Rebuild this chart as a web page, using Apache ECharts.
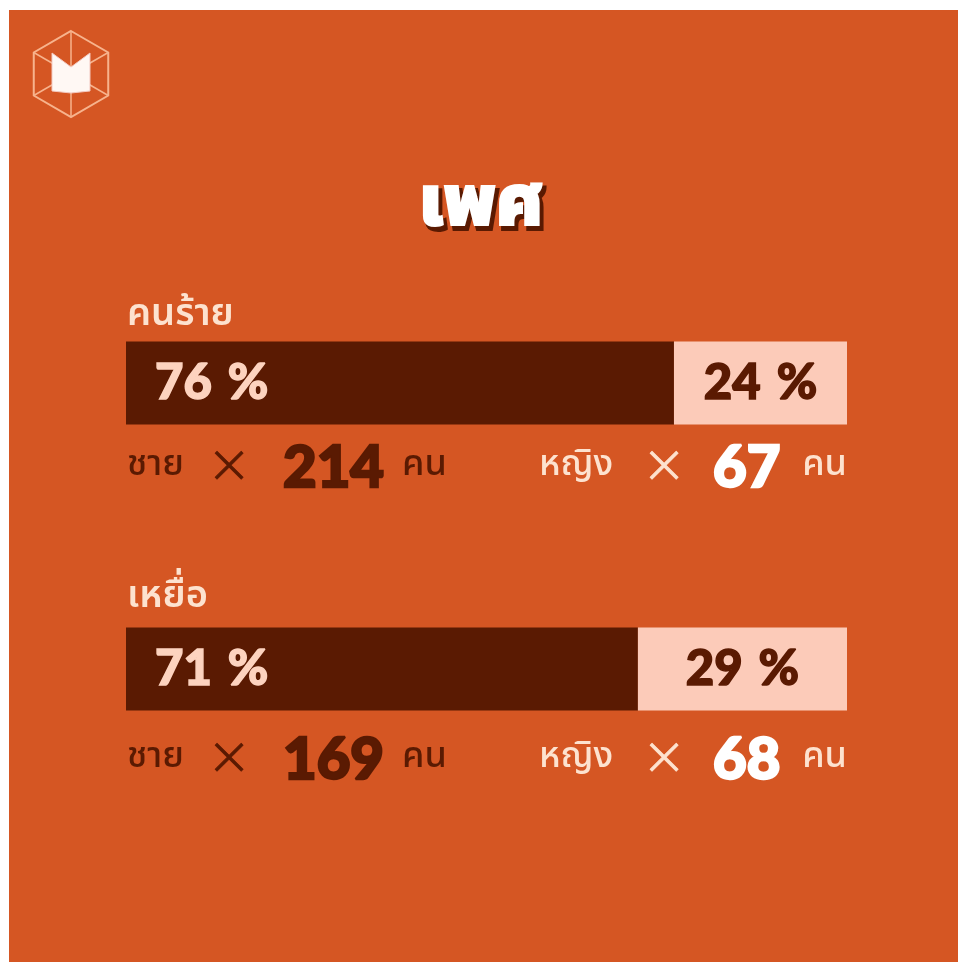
<!DOCTYPE html>
<html>
<head>
<meta charset="utf-8">
<script src="https://cdn.jsdelivr.net/npm/echarts@6/dist/echarts.min.js"></script>
<style>
  html, body { margin: 0; padding: 0; background: #ffffff; }
  #chart { width: 958px; height: 962px; }
</style>
</head>
<body>
<div id="chart"></div>
<script>
// ============================================================
// 数据
// ============================================================
var CATEGORIES = ['คนร้าย', 'เหยื่อ'];
var MALE_PCT = [76, 71];
var FEMALE_PCT = [24, 29];
var MALE_COUNT = [214, 169];
var FEMALE_COUNT = [67, 68];
var MALE_LABEL = 'ชาย';
var FEMALE_LABEL = 'หญิง';
var UNIT_LABEL = 'คน';
var TITLE = 'เพศ';

var BG = '#d55623';
var DARK = '#5a1a02';
var LIGHT = '#fccbb9';
var CREAM = '#fde2cf';

var THAI_FONT = '"Noto Sans Thai", "Noto Sans", "DejaVu Sans", sans-serif';
var NUM_FONT = 'Lato, "Open Sans", Roboto, sans-serif';

var chart = echarts.init(document.getElementById('chart'));

// 百分比标签：数字与 % 之间留出较宽间隔
function pctLabel(color) {
  return {
    show: true,
    formatter: '{n|{c}}{s| }{n|%}',
    rich: {
      n: {
        color: color, textBorderColor: color, textBorderWidth: 1.5,
        fontFamily: NUM_FONT, fontWeight: 900, fontSize: 49
      },
      s: { fontSize: 18, width: 16 }
    }
  };
}

var maleLabel = pctLabel('#fdd3bf');
maleLabel.position = 'insideLeft';
maleLabel.distance = 29;
var femaleLabel = pctLabel(DARK);
femaleLabel.position = 'inside';

chart.setOption({
  backgroundColor: '#ffffff',
  animation: false,
  grid: { left: 126, right: 111, top: 240, height: 572 },
  xAxis: { type: 'value', min: 0, max: 100, show: false },
  yAxis: { type: 'category', data: CATEGORIES, inverse: true, show: false },
  series: [
    {
      name: MALE_LABEL,
      type: 'bar',
      stack: 'sex',
      data: MALE_PCT,
      barWidth: 83,
      itemStyle: { color: DARK },
      label: maleLabel
    },
    {
      name: FEMALE_LABEL,
      type: 'bar',
      stack: 'sex',
      data: FEMALE_PCT,
      barWidth: 83,
      itemStyle: { color: LIGHT },
      label: femaleLabel
    }
  ]
});

// ============================================================
// 文字与装饰（位置由坐标轴换算）
// ============================================================
function thaiText(x, y, text, color, size, align, weight) {
  return {
    type: 'text', x: x, y: y, z: 10,
    style: {
      text: text, fill: color, font: (weight || 500) + ' ' + size + 'px ' + THAI_FONT,
      textAlign: align || 'left', textVerticalAlign: 'middle'
    }
  };
}

function crossText(x, y, color) {
  return {
    type: 'text', x: x, y: y, z: 10,
    style: {
      text: '×', fill: color, stroke: color, lineWidth: 0.8,
      font: '300 54px "DejaVu Sans", sans-serif',
      textAlign: 'center', textVerticalAlign: 'middle'
    }
  };
}

function numText(x, y, text, color) {
  return {
    type: 'text', x: x, y: y, z: 10,
    style: {
      text: text, fill: color, stroke: color, lineWidth: 2.5,
      font: '900 58px ' + NUM_FONT,
      textAlign: 'left', textVerticalAlign: 'middle'
    }
  };
}

var xLeft = chart.convertToPixel({ xAxisIndex: 0 }, 0);
var xRight = chart.convertToPixel({ xAxisIndex: 0 }, 100);
var elements = [];

// 橙色底板
elements.push({
  type: 'rect', z: -10, silent: true,
  shape: { x: 9, y: 10, width: 949, height: 952 },
  style: { fill: BG }
});

// 左上角 logo
var cx = 71, cy = 74, r = 43;
var hex = [];
for (var k = 0; k < 6; k++) {
  var a = Math.PI / 180 * (60 * k - 90);
  hex.push([cx + r * Math.cos(a), cy + r * Math.sin(a)]);
}
elements.push({
  type: 'polygon', shape: { points: hex },
  style: { fill: 'none', stroke: '#f7b38d', lineWidth: 2 }
});
for (var j = 0; j < 6; j++) {
  elements.push({
    type: 'line',
    shape: { x1: cx, y1: cy, x2: hex[j][0], y2: hex[j][1] },
    style: { stroke: '#f7b38d', lineWidth: 1.5 }
  });
}
elements.push({
  type: 'polygon',
  shape: { points: [[52, 53], [71, 67], [90, 53], [90, 91], [71, 93], [52, 91]] },
  style: { fill: '#fff8f4', stroke: '#f3c9c0', lineWidth: 1 }
});

// 标题（带阴影）
elements.push({
  type: 'text', x: 484, y: 215, z: 10,
  style: {
    text: TITLE, fill: DARK, stroke: DARK, lineWidth: 4,
    font: '900 70px ' + THAI_FONT,
    textAlign: 'center', textVerticalAlign: 'middle'
  }
});
elements.push({
  type: 'text', x: 481, y: 211, z: 11,
  style: {
    text: TITLE, fill: '#ffffff', stroke: '#ffffff', lineWidth: 2,
    font: '900 70px ' + THAI_FONT,
    textAlign: 'center', textVerticalAlign: 'middle'
  }
});

CATEGORIES.forEach(function(cat, i) {
  var yc = chart.convertToPixel({ yAxisIndex: 0 }, i);
  var yName = yc - 66 - i * 4;
  var yRow = yc + 85 + i * 6;

  elements.push(thaiText(xLeft + 1, yName, cat, CREAM, 38, 'left', 600));

  elements.push(thaiText(xLeft + 1, yRow, MALE_LABEL, DARK, 36));
  elements.push(crossText(xLeft + 103, yRow, DARK));
  elements.push(numText(xLeft + 157, yRow, String(MALE_COUNT[i]), DARK));
  elements.push(thaiText(xLeft + 276, yRow, UNIT_LABEL, DARK, 36));

  elements.push(thaiText(xLeft + 413, yRow, FEMALE_LABEL, CREAM, 36));
  elements.push(crossText(xLeft + 538, yRow, CREAM));
  elements.push(numText(xLeft + 587, yRow, String(FEMALE_COUNT[i]), '#ffffff'));
  elements.push(thaiText(xRight, yRow, UNIT_LABEL, CREAM, 36, 'right'));
});

chart.setOption({ graphic: { elements: elements } });
</script>
</body>
</html>
